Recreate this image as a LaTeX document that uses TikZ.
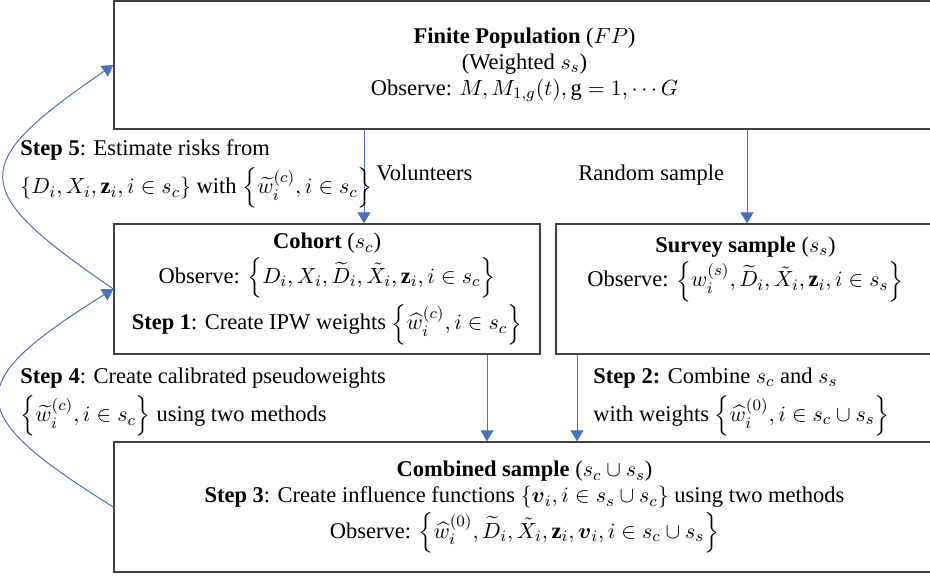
\documentclass[tikz,border=0pt]{standalone}
\usepackage{amsmath,amssymb}
\usepackage{fontspec}
\setmainfont{Liberation Serif}
\usetikzlibrary{arrows.meta,positioning}
\definecolor{flowblue}{HTML}{4472C4}
\definecolor{boxgray}{HTML}{404040}
\tikzset{
	box/.style={draw=boxgray, line width=0.7pt, align=center, inner sep=0pt},
	flow/.style={draw=flowblue, line width=0.5pt, -{Triangle[length=5.5pt,width=6.5pt]}},
	steptxt/.style={align=left, inner sep=0pt, anchor=west},
	plaintxt/.style={inner sep=0pt, anchor=base west},
}
\begin{document}
\begin{tikzpicture}[x=0.5pt, y=-0.5pt, font=\fontsize{11.25}{13}\selectfont]
		\useasboundingbox (0,0) rectangle (930,575);

		\node[box, minimum width=410.5pt, minimum height=64pt] (fp) at (524.5,65)
			{\textbf{Finite Population} ($FP$)\\
			(Weighted $s_s$)\\
			Observe: $M, M_{1,g}(t), \mathrm{g}=1,\cdots G$};
		\node[box, minimum width=213pt, minimum height=65pt] (cohort) at (327,289)
			{\textbf{Cohort} ($s_c$)\\[1pt]
			Observe: $\left\{D_i, X_i, \widetilde{D}_i, \tilde{X}_i, \mathbf{z}_i, i\in s_c\right\}$\\[2pt]
			\textbf{Step 1}: Create IPW weights $\left\{\widehat{w}_i^{(c)}, i\in s_c\right\}$};
		\node[box, minimum width=189.5pt, minimum height=65pt] (survey) at (745.5,289) {};
		\node[below=6.5pt of survey.north, align=center, inner sep=0pt] (surveytxt)
			{\textbf{Survey sample} ($s_s$)\\[1pt]
			Observe: $\left\{w_i^{(s)}, \widetilde{D}_i, \tilde{X}_i, \mathbf{z}_i, i\in s_s\right\}$};
		\node[box, minimum width=410.5pt, minimum height=65pt] (comb) at (524.5,507)
			{\textbf{Combined sample} ($s_c\cup s_s$)\\
			\textbf{Step 3}: Create influence functions $\{\boldsymbol{v}_i, i\in s_s\cup s_c\}$ using two methods\\[1pt]
			Observe: $\left\{\widehat{w}_i^{(0)}, \widetilde{D}_i, \tilde{X}_i, \mathbf{z}_i, \boldsymbol{v}_i, i\in s_c\cup s_s\right\}$};

		\coordinate (vol) at (364,0);
		\coordinate (rnd) at (747,0);
		\coordinate (cdown) at (487,0);
		\coordinate (sdown) at (577,0);

		\draw[flow] (fp.south -| vol) -- (cohort.north -| vol);
		\draw[flow] (fp.south -| rnd) -- (survey.north -| rnd);
		\draw[flow] (cohort.south -| cdown) -- (comb.north -| cdown);
		\draw[flow] (survey.south -| sdown) -- (comb.north -| sdown);

		\node[plaintxt] (voltxt) at (376,180) {Volunteers};
		\node[plaintxt] (rndtxt) at (578,180) {Random sample};

		\node[steptxt] (step5) at (20,174)
			{\textbf{Step 5}: Estimate risks from\\[3pt]
			$\{D_i, X_i, \mathbf{z}_i, i\in s_c\}$ with $\left\{\widetilde{w}_i^{(c)}, i\in s_c\right\}$};
		\node[steptxt] (step4) at (20,402)
			{\textbf{Step 4}: Create calibrated pseudoweights\\[3pt]
			$\left\{\widetilde{w}_i^{(c)}, i\in s_c\right\}$ using two methods};
		\node[steptxt] (step2) at (593,402)
			{\textbf{Step 2:} Combine $s_c$ and $s_s$\\[3pt]
			with weights $\left\{\widehat{w}_i^{(0)}, i\in s_c\cup s_s\right\}$};

		\draw[flow] (cohort.west) .. controls +(-146,-100) and +(-146,100) .. (fp.west);
		\draw[flow] (comb.west) .. controls +(-152,-95) and +(-152,95) .. (cohort.west);
	\end{tikzpicture}
\end{document}
